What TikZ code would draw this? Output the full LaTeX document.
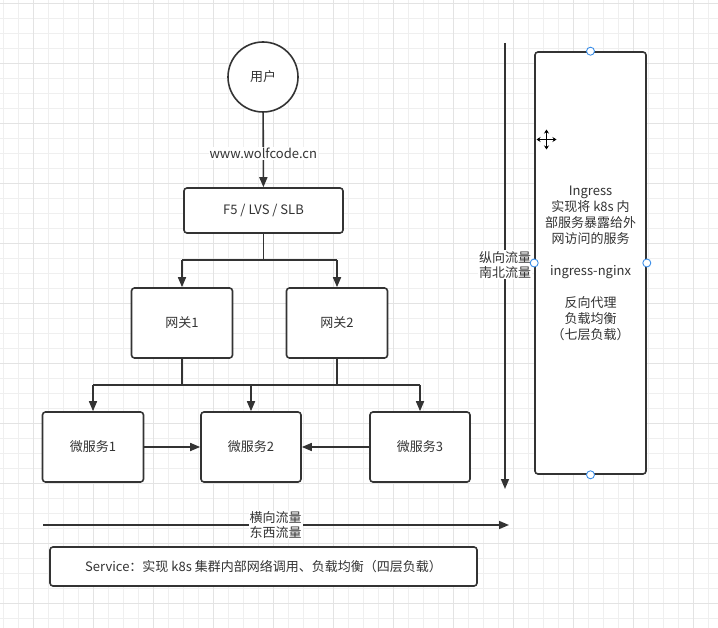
\documentclass[tikz,border=0pt]{standalone}
\usepackage{fontspec}
\setmainfont{Noto Sans CJK SC}
\usetikzlibrary{arrows.meta}
\definecolor{ink}{HTML}{333333}
\definecolor{gridminor}{HTML}{EFEFEF}
\definecolor{gridmajor}{HTML}{E3E3E3}
\definecolor{handleblue}{HTML}{3D8FE8}
\tikzset{
  box/.style={draw=ink, line width=1.6pt, rounded corners=3pt, fill=white, text=ink,
    font=\fontsize{13}{16}\selectfont, inner sep=0pt, align=center},
  conn/.style={draw=ink, line width=1.6pt},
  arr/.style={conn, -{Triangle[length=10pt,width=8pt]}},
  lbl/.style={fill=white, inner sep=1pt, text=ink, font=\fontsize{13}{15}\selectfont, align=center},
  handle/.style={draw=handleblue, fill=white, line width=0.9pt},
}
\begin{document}
\begin{tikzpicture}[x=1pt,y=-1pt]
\useasboundingbox (0,0) rectangle (718,628);
\fill[white] (0,0) rectangle (718,628);
% grid
\foreach \i in {0,...,47} \draw[gridminor, line width=0.8pt] (3+15*\i,0) -- (3+15*\i,628);
\foreach \i in {0,...,41} \draw[gridminor, line width=0.8pt] (0,3+15*\i) -- (718,3+15*\i);
\foreach \i in {0,...,11} \draw[gridmajor, line width=0.9pt] (33+60*\i,0) -- (33+60*\i,628);
\foreach \i in {0,...,10} \draw[gridmajor, line width=0.9pt] (0,3+60*\i) -- (718,3+60*\i);

% nodes
\node[box, circle, rounded corners=0pt, minimum size=70pt] (user) at (263,77) {用户};
\node[box, minimum width=159pt, minimum height=45pt] (f5) at (263.5,210.5) {F5 / LVS / SLB};
\node[box, minimum width=101pt, minimum height=70pt] (gw1) at (182,323) {网关1};
\node[box, minimum width=101pt, minimum height=70pt] (gw2) at (337,323) {网关2};
\node[box, minimum width=101pt, minimum height=70pt] (ms1) at (93,447) {微服务1};
\node[box, minimum width=100pt, minimum height=70pt] (ms2) at (251,447) {微服务2};
\node[box, minimum width=100pt, minimum height=70pt] (ms3) at (420,447) {微服务3};
\node[box, minimum width=111pt, minimum height=422pt] (ing) at (590.5,263)
  {Ingress\\实现将 k8s 内\\部服务暴露给外\\网访问的服务\\ \\ingress-nginx\\ \\反向代理\\负载均衡\\（七层负载）};
\node[box, minimum width=427pt, minimum height=39pt] (svc) at (263.5,566.5)
  {Service：实现 k8s 集群内部网络调用、负载均衡（四层负载）};

% user -> f5
\draw[arr] (user) -- node[lbl, pos=0.545] {www.wolfcode.cn} (f5);

% f5 -> gateways
\coordinate (j1) at (263.5,260);
\draw[conn] (f5.south) -- (j1);
\draw[conn] (gw1.north |- j1) -- (gw2.north |- j1);
\draw[arr] (gw1.north |- j1) -- (gw1.north);
\draw[arr] (gw2.north |- j1) -- (gw2.north);

% gateways -> microservices
\coordinate (bus) at (250,385);
\draw[conn] (gw1.south) -- (gw1.south |- bus);
\draw[conn] (gw2.south) -- (gw2.south |- bus);
\draw[conn] (ms1.north |- bus) -- (ms3.north |- bus);
\draw[arr] (ms1.north |- bus) -- (ms1.north);
\draw[arr] (ms2.north |- bus) -- (ms2.north);
\draw[arr] (ms3.north |- bus) -- (ms3.north);

% between microservices
\draw[arr] (ms1.east) -- (ms2.west);
\draw[arr] (ms3.west) -- (ms2.east);

% vertical flow
\coordinate (vtop) at (505,43);
\coordinate (vbot) at (505,489);
\draw[arr] (vtop) -- node[lbl, pos=0.497] {纵向流量\\南北流量} (vbot);

% horizontal flow
\coordinate (hl) at (43,525);
\coordinate (hr) at (509,525);
\draw[arr] (hl) -- node[lbl, pos=0.499] {横向流量\\东西流量} (hr);

% selection handles
\foreach \a in {north,south,east,west} \draw[handle] (ing.\a) circle (4pt);

% move cursor
\begin{scope}[shift={(546.5,139.5)}]
  \foreach \r in {0,90,180,270}
    \draw[white, line width=2.4pt, rotate=\r] (0,0) -- (7,0);
  \foreach \r in {0,90,180,270}
    \draw[black, line width=0.8pt, rotate=\r, -{Stealth[length=4pt,width=5pt]}] (0,0) -- (10,0);
\end{scope}
\end{tikzpicture}
\end{document}
